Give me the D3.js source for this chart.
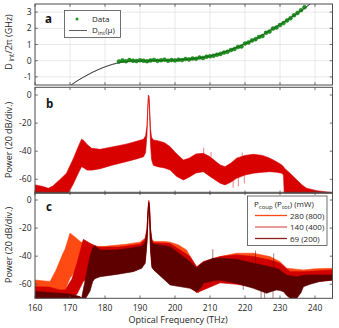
<!DOCTYPE html>
<html><head><meta charset="utf-8">
<script src="https://cdn.jsdelivr.net/npm/d3@7"></script>
<style>body{margin:0;background:#fff}svg{display:block;font-family:"Open Sans",sans-serif}</style>
</head><body><svg id="c" width="339" height="328"></svg>
<script>
// ---------- data ----------
const xTicks = [160,170,180,190,200,210,220,230,240];
const yTicksA = [-1,0,1,2,3];
const yTicksP = [0,-20,-40,-60];

// panel a: measured Dint (GHz) vs frequency (THz)
const dataFreq = [184,185,186,187,188,189,190,191,192,193,194,195,196,197,198,199,200,201,202,203,204,205,206,207,208,209,210,211,212,213,214,215,216,217,218,219,220,221,222,223,224,225,226,227,228,229,230,231,232,233,234,235,236,237];
const dataDint = [-0.05,0.02,-0.03,0.04,0.0,-0.02,0.03,0.0,-0.03,0.02,0.05,-0.01,0.03,0.06,0.0,0.04,0.02,0.06,0.04,0.1,0.08,0.13,0.12,0.19,0.17,0.25,0.27,0.31,0.37,0.42,0.5,0.55,0.66,0.72,0.85,0.88,1.06,1.12,1.25,1.33,1.47,1.52,1.72,1.8,1.98,2.05,2.2,2.32,2.48,2.62,2.8,2.95,3.12,3.3];
// model curve Dint(mu)
const fitFreq = [168.5,170.3,173.8,178.6,183.3,188,193,198,203,208,213,218,223,228,233,238.6,240];
const fitDint = [-1.8,-1.5,-1.02,-0.5,-0.16,-0.02,0,0.02,0.08,0.2,0.45,0.85,1.35,1.97,2.65,3.5,3.75];

// panel b: spectrum envelope (dB)
const bFreq  = [160,162,163.8,165,167,169,169.5,171,172.5,173.3,174,174.8,176.2,178.6,182,186,189,191,191.6,192.0,192.2,192.4,192.6,192.8,193.0,193.3,193.8,195,197,198.6,200.5,202.4,204,206,208.1,210,212.9,214.3,216,217.6,220,222.4,225,227.1,229,230.5,231,231.2,233,234.8,236.5,237.6,240.5,243.3,245];
const bUpper = [-64,-65,-66.4,-65,-60.5,-55.7,-53,-45,-36,-31.5,-32.5,-35,-38,-38.7,-37,-35,-33,-31.5,-29,-22,-10,0,-1,-12,-24,-30,-32,-32.5,-34,-36.8,-42,-46.3,-45,-42,-41.5,-44,-49.8,-51,-48.5,-45,-43,-42.2,-43,-45,-47.5,-49.8,-51,-52,-56,-60.5,-64.5,-66.4,-68.1,-69,-69.5];
const bLower = [-70,-70,-70,-70,-70,-70,-70,-63,-55,-51,-52,-53.4,-53.5,-52.5,-50,-47.5,-45.5,-44,-41,-28,-12,-3,-4,-18,-35,-46,-50,-51,-52,-53.4,-58,-60.5,-58.5,-55.5,-54.6,-58,-62.8,-64,-62,-59.3,-57,-55.7,-55,-54.6,-55,-55.7,-57,-70,-70,-70,-70,-70,-70,-70,-70];
const bSpikeFreq = [208.2,210.3,219.2,216.6,218.1,219.8];
const bSpikeFrom = [-42,-44,-44,-61,-58,-57];
const bSpikeTo   = [-37.5,-40.5,-41,-66,-65,-63];

// panel c: three pump powers
const powerLabels = ["280 (800)","140 (400)","69 (200)"];
const oFreq  = [160,162,164.3,166,168,168.6,170,170.5,171.5,173,176,180,186,190,191.5,192.0,192.3,192.5,192.7,193.0,193.4,194,197,198.6,201,203.3,205.7,206.7,208.1,212.9,217.6,222.4,227.1,230,231.9,236.7,240,245];
const oUpper = [-57,-57.5,-58,-50,-38,-35,-23.7,-24.5,-26.5,-29.7,-33,-33,-31.5,-30,-27,-20,-6,0,-3,-20,-28,-29.5,-29.5,-30,-32,-35.6,-46.3,-48.6,-43.9,-40.3,-37.9,-37.9,-40.3,-43.9,-48.6,-49.8,-49,-48.6];
const oLower = [-70,-70,-70,-67,-65,-64,-55.5,-54,-50,-47,-50,-50,-48,-46,-42,-28,-10,-2,-6,-32,-46,-49,-50,-52,-56,-60,-64,-66,-62,-58,-57,-57,-57,-55,-53,-56,-57,-57];
const rFreq  = [160,164,167.1,168.6,170.5,172,173.8,175.7,178,184,190,191.5,192.0,192.3,192.5,192.7,193.0,193.4,194,198.6,204.3,206.2,208.1,212.9,217.6,222.4,227.1,230,231.5,232.9,236.7,241.4,245];
const rUpper = [-61.7,-62,-64,-64,-56.5,-45,-28,-30.8,-33.5,-33.5,-31.5,-28,-21,-7,-1,-4,-21,-29,-30.5,-31,-40.3,-47.5,-43.9,-40.3,-39.1,-40.3,-42.7,-45,-48,-51,-51,-50.3,-49.8];
const rLower = [-70,-70,-70,-70,-70,-67,-58,-55,-54,-52,-48,-43,-28,-11,-3,-7,-34,-47,-50,-53,-62,-66,-64,-59,-60,-62,-62,-60,-54,-54,-58,-58,-57];
const dFreq  = [160,165,170,172.9,173.3,174.5,175.7,176.5,177.1,178.6,183.3,188.1,190.5,191.5,192.0,192.3,192.5,192.7,193.0,193.4,194,198.6,204.3,206.2,207.6,208.1,210.9,212.9,217.6,222.4,226.2,227.1,229,230,231,231.9,232.9,234.8,236,236.7,238.6,241.4,245];
const dUpper = [-65,-66,-67,-68.8,-70,-55,-40.3,-34,-32.5,-35.6,-35.6,-34,-33,-30,-22,-8,-1.5,-5,-22,-30,-31.5,-33.2,-43.9,-48.6,-45,-44.5,-41.5,-41.5,-42.2,-45,-47,-47.5,-48.8,-49.8,-52,-53.4,-54,-54.6,-54,-53.5,-53.4,-53.4,-53.4];
const dLower = [-70,-70,-70,-70,-70,-70,-65,-58,-56,-54.6,-53,-51,-48.6,-45,-30,-12,-4,-8,-36,-48,-50,-60.5,-62.9,-65.3,-62,-59.3,-57.5,-57,-59.3,-62.9,-66.4,-65.5,-64,-64.5,-65.3,-68,-70,-70,-66,-61.7,-60,-58,-57];
const cSpikeFreq = [210.8,223.0,228.2,224.6,225.6,228.0,233.4,234.1,219.5];
const cSpikeFrom = [-44,-47,-50,-62,-63,-62,-66,-66,-58];
const cSpikeTo   = [-35,-36,-38,-70,-70,-70,-70,-70,-64];

// ---------- drawing ----------
const svg = d3.select("#c");
const L = 35, R = 332.5;
const x = d3.scaleLinear().domain([160,245]).range([L,R]);
const frame = "#4d4d4d", txt = "#262626";
const COL = {b:"#d90000", o:"#ff4a14", r:"#d00000", d:"#5e0000", green:"#1a9a1a"};

const panels = {
  a:{y:d3.scaleLinear().domain([-1.5,3.5]).range([85,4]), ticks:yTicksA, top:4, bot:85},
  b:{y:d3.scaleLinear().domain([-70,5.5]).range([193.3,87.3]), ticks:yTicksP, top:87.3, bot:193.3},
  c:{y:d3.scaleLinear().domain([-70,5.5]).range([298.3,192.3]), ticks:yTicksP, top:192.3, bot:298.3}
};

const defs = svg.append("defs");
Object.entries(panels).forEach(([k,p])=>{
  defs.append("clipPath").attr("id","clip-"+k).append("rect")
    .attr("x",L).attr("y",p.top).attr("width",R-L).attr("height",p.bot-p.top);
  p.g = svg.append("g");
  p.plot = p.g.append("g").attr("clip-path","url(#clip-"+k+")");
});

// grid for panel a
{
  const p = panels.a;
  p.plot.selectAll("line.gx").data(xTicks).join("line")
    .attr("x1",d=>x(d)).attr("x2",d=>x(d)).attr("y1",p.top).attr("y2",p.bot)
    .attr("stroke","#e2e2e2").attr("stroke-width",0.8);
  p.plot.selectAll("line.gy").data(yTicksA).join("line")
    .attr("y1",d=>p.y(d)).attr("y2",d=>p.y(d)).attr("x1",L).attr("x2",R)
    .attr("stroke","#e2e2e2").attr("stroke-width",0.8);
}

function band(p, fr, up, lo, color){
  const pts = fr.map((f,i)=>({f, u:up[i], l:lo[i]}));
  const area = d3.area().x(d=>x(d.f)).y0(d=>p.y(d.l)).y1(d=>p.y(d.u)).curve(d3.curveLinear);
  p.plot.append("path").datum(pts).attr("d",area).attr("fill",color)
    .attr("stroke",color).attr("stroke-width",0.6);
}
function spikes(p, fr, a, b, color){
  p.plot.selectAll(null).data(fr).join("line")
    .attr("x1",d=>x(d)).attr("x2",d=>x(d))
    .attr("y1",(d,i)=>p.y(a[i])).attr("y2",(d,i)=>p.y(b[i]))
    .attr("stroke",color).attr("stroke-width",0.5);
}

// panel a content
{
  const p = panels.a;
  const line = d3.line().x((d,i)=>x(fitFreq[i])).y(d=>p.y(d)).curve(d3.curveMonotoneX);
  p.plot.append("path").datum(fitDint).attr("d",line).attr("fill","none")
    .attr("stroke","#222").attr("stroke-width",0.8);
  p.plot.selectAll("circle").data(dataDint).join("circle")
    .attr("cx",(d,i)=>x(dataFreq[i])).attr("cy",d=>p.y(d)).attr("r",2)
    .attr("fill",COL.green).attr("stroke","#0b600b").attr("stroke-width",0.4);
  p.plot.append("path").datum(fitDint).attr("d",line).attr("fill","none")
    .attr("stroke","#222").attr("stroke-width",0.6).attr("opacity",0.6);
}
// panel b
band(panels.b, bFreq, bUpper, bLower, COL.b);
spikes(panels.b, bSpikeFreq, bSpikeFrom, bSpikeTo, COL.b);
// panel c
band(panels.c, oFreq, oUpper, oLower, COL.o);
band(panels.c, rFreq, rUpper, rLower, COL.r);
band(panels.c, dFreq, dUpper, dLower, COL.d);
spikes(panels.c, cSpikeFreq, cSpikeFrom, cSpikeTo, COL.d);

// frames & ticks
Object.entries(panels).forEach(([k,p])=>{
  const g = p.g;
  const tl = 2.8;
  xTicks.forEach(t=>{
    g.append("line").attr("x1",x(t)).attr("x2",x(t)).attr("y1",p.bot).attr("y2",p.bot-tl).attr("stroke",frame).attr("stroke-width",0.8);
    g.append("line").attr("x1",x(t)).attr("x2",x(t)).attr("y1",p.top).attr("y2",p.top+tl).attr("stroke",frame).attr("stroke-width",0.8);
  });
  p.ticks.forEach(t=>{
    g.append("line").attr("x1",L).attr("x2",L+tl).attr("y1",p.y(t)).attr("y2",p.y(t)).attr("stroke",frame).attr("stroke-width",0.8);
    g.append("line").attr("x1",R).attr("x2",R-tl).attr("y1",p.y(t)).attr("y2",p.y(t)).attr("stroke",frame).attr("stroke-width",0.8);
    g.append("text").attr("x",L-3.5).attr("y",p.y(t)+3).attr("text-anchor","end")
      .attr("font-size",8.5).attr("fill",txt).text(t<0?"-"+Math.abs(t):t);
  });
  g.append("rect").attr("x",L).attr("y",p.top).attr("width",R-L).attr("height",p.bot-p.top)
    .attr("fill","none").attr("stroke",frame).attr("stroke-width",1);
});
// x tick labels
svg.selectAll("text.xt").data(xTicks).join("text").attr("class","xt")
  .attr("x",d=>x(d)).attr("y",310.5).attr("text-anchor","middle")
  .attr("font-size",8.5).attr("fill",txt).text(d=>d);
svg.append("text").attr("x",178).attr("y",323).attr("text-anchor","middle")
  .attr("font-size",9).attr("fill",txt).text("Optical Frequency (THz)");

// y labels
function ylab(cy, build){
  const t = svg.append("text").attr("transform",`translate(12,${cy}) rotate(-90)`)
    .attr("text-anchor","middle").attr("font-size",9).attr("fill",txt);
  build(t);
}
ylab(42, t=>{ t.append("tspan").text("D");
  t.append("tspan").attr("font-size",6.5).attr("dy",2).text(" int");
  t.append("tspan").attr("dy",-2).text("/2π (GHz)"); });
ylab(140, t=>t.text("Power (20 dB/div.)"));
ylab(245, t=>t.text("Power (20 dB/div.)"));

// panel letters
[["a",45,23],["b",46,108],["c",46,211]].forEach(([s,px,py])=>
  svg.append("text").attr("x",px).attr("y",py).attr("font-size",11.5).attr("font-weight","bold").attr("fill","#111").text(s));

// legend a
{
  const g = svg.append("g");
  g.append("rect").attr("x",64.5).attr("y",10.5).attr("width",56).attr("height",27)
    .attr("fill","#fff").attr("stroke",frame).attr("stroke-width",0.8);
  g.append("circle").attr("cx",77).attr("cy",19).attr("r",1.5).attr("fill",COL.green);
  g.append("text").attr("x",92).attr("y",22).attr("font-size",8).attr("fill",txt).text("Data");
  g.append("line").attr("x1",69).attr("x2",87).attr("y1",30.5).attr("y2",30.5).attr("stroke","#333").attr("stroke-width",0.8);
  const t = g.append("text").attr("x",92).attr("y",33).attr("font-size",8).attr("fill",txt);
  t.append("tspan").text("D");
  t.append("tspan").attr("font-size",6).attr("dy",1.5).text("int");
  t.append("tspan").attr("dy",-1.5).text("(μ)");
}
// legend c
{
  const g = svg.append("g");
  g.append("rect").attr("x",247.5).attr("y",196).attr("width",79.5).attr("height",49.5)
    .attr("fill","#fff").attr("stroke",frame).attr("stroke-width",0.8);
  const t = g.append("text").attr("x",254).attr("y",207).attr("font-size",8).attr("fill",txt);
  t.append("tspan").text("P");
  t.append("tspan").attr("font-size",6).attr("dy",1.5).text("coup");
  t.append("tspan").attr("dy",-1.5).text(" (P");
  t.append("tspan").attr("font-size",6).attr("dy",1.5).text("tot");
  t.append("tspan").attr("dy",-1.5).text(") (mW)");
  const cols = [COL.o, "#e06060", "#8e2020"];
  powerLabels.forEach((s,i)=>{
    const yy = 215.5 + i*11.5;
    g.append("line").attr("x1",255).attr("x2",287).attr("y1",yy).attr("y2",yy).attr("stroke",cols[i]).attr("stroke-width",1.3);
    g.append("text").attr("x",290).attr("y",yy+3).attr("font-size",8).attr("fill",txt).text(s);
  });
}
</script></body></html>
